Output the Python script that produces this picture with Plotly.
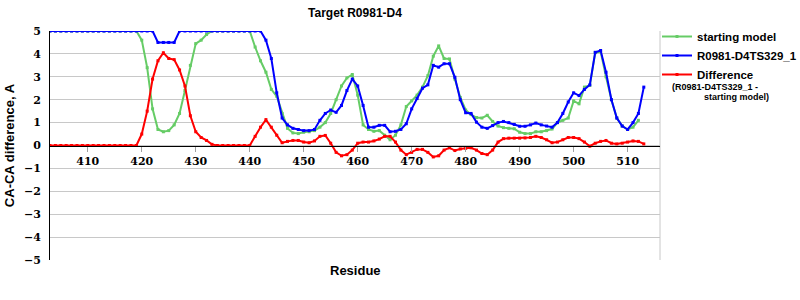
import plotly.graph_objects as go

residues = list(range(403, 514))

starting_model = (
    [5.0] * 17
    + [4.6, 3.4, 1.6, 0.7, 0.6, 0.65, 0.9, 1.4, 2.4, 3.5, 4.45, 4.6, 4.85]
    + [5.0] * 8
    + [4.3, 3.7, 3.2, 2.45, 2.15, 1.4, 0.75, 0.55, 0.52, 0.58, 0.6, 0.65, 0.8, 1.0,
       1.4, 2.0, 2.6, 2.95, 3.1, 2.2, 0.9, 0.7, 0.62, 0.65, 0.45, 0.25, 0.45, 0.9,
       1.7, 1.95, 2.2, 2.55, 3.05, 3.9, 4.35, 3.8, 3.78, 2.9, 2.1, 1.55, 1.35, 1.22,
       1.2, 1.32, 1.05, 0.85, 0.78, 0.75, 0.73, 0.58, 0.52, 0.52, 0.6, 0.6, 0.65,
       0.72, 1.0, 1.1, 1.2, 1.95, 1.82, 2.55, 2.62, 4.05, 4.1, 3.0, 2.0, 1.2, 0.85,
       0.7, 0.8, 1.1]
)

model_ts329 = (
    [5.0] * 20
    + [4.5, 4.5, 4.5, 4.5]
    + [5.0] * 16
    + [4.6, 3.8, 2.3, 1.2, 0.9, 0.75, 0.7, 0.65, 0.65, 0.7, 1.1, 1.4, 1.55, 1.45,
       1.75, 2.4, 2.9, 2.6, 1.75, 0.8, 0.8, 0.88, 0.88, 0.6, 0.62, 0.7, 0.95, 1.6,
       2.05, 2.5, 2.65, 3.5, 3.42, 3.57, 3.57, 2.98, 2.0, 1.43, 1.4, 1.02, 0.8, 0.75,
       0.87, 1.0, 1.05, 1.0, 0.92, 0.84, 0.84, 0.9, 0.98, 0.9, 0.85, 0.8, 1.0, 1.4,
       1.9, 2.3, 2.18, 2.45, 2.65, 4.07, 4.15, 3.2, 2.0, 1.2, 0.85, 0.7, 1.0, 1.4,
       2.55]
)

difference = (
    [0.0] * 17
    + [0.5, 1.5, 2.9, 3.7, 4.05, 3.8, 3.75, 3.3, 2.6, 1.3, 0.6, 0.35, 0.22, 0.05]
    + [0.0] * 7
    + [0.4, 0.8, 1.13, 0.8, 0.45, 0.12, 0.18, 0.22, 0.22, 0.15, 0.12, 0.2, 0.4, 0.44,
       0.1, -0.3, -0.45, -0.4, -0.2, 0.1, 0.15, 0.15, 0.2, 0.28, 0.4, 0.4, 0.15, -0.2,
       -0.4, -0.3, -0.17, -0.17, -0.3, -0.5, -0.45, -0.2, -0.1, -0.22, -0.15, -0.12,
       -0.1, -0.2, -0.35, -0.4, -0.2, 0.15, 0.3, 0.32, 0.32, 0.32, 0.33, 0.35, 0.4,
       0.35, 0.25, 0.12, 0.15, 0.25, 0.35, 0.35, 0.3, 0.15, -0.03, 0.1, 0.18, 0.22,
       0.1, 0.07, 0.1, 0.15, 0.2, 0.18, 0.07]
)

x_ticks = list(range(410, 511, 10))
y_ticks = list(range(-5, 6))

GREEN = "#66CC66"
BLUE = "#0000FF"
RED = "#FF0000"

fig = go.Figure()
fig.add_trace(go.Scatter(
    x=residues[:len(starting_model)], y=starting_model, name="starting model",
    mode="lines+markers", line=dict(color=GREEN, width=2),
    marker=dict(symbol="square", size=3, color=GREEN)))
fig.add_trace(go.Scatter(
    x=residues[:len(model_ts329)], y=model_ts329, name="R0981-D4TS329_1",
    mode="lines+markers", line=dict(color=BLUE, width=2),
    marker=dict(symbol="square", size=3, color=BLUE)))
fig.add_trace(go.Scatter(
    x=residues[:len(difference)], y=difference, name="Difference",
    mode="lines+markers", line=dict(color=RED, width=2),
    marker=dict(symbol="square", size=3, color=RED)))

SANS = "Liberation Sans, Arial, sans-serif"
SERIF = "DejaVu Serif, serif"

fig.update_layout(
    width=800, height=300,
    margin=dict(l=50, r=140, t=31, b=40, autoexpand=False),
    paper_bgcolor="white", plot_bgcolor="white",
    title=dict(text="Target R0981-D4", x=0.5, xref="paper", xanchor="center",
               y=1 - 13 / 300, yref="container", yanchor="middle",
               font=dict(family=SANS, size=12, color="black", weight="bold")),
    xaxis=dict(range=[403, 516], tickvals=x_ticks, showgrid=False, automargin=False,
               anchor="free", position=0.5, showline=True, linecolor="black",
               linewidth=1, ticks="outside", ticklen=5, tickcolor="#A0A0A0",
               tickfont=dict(family=SERIF, size=11, color="black", weight="bold"),
               zeroline=False),
    yaxis=dict(range=[-5, 5], tickvals=y_ticks, showgrid=True, gridcolor="#C8C8C8",
               gridwidth=1, showline=True, linecolor="black", linewidth=1,
               zeroline=False, ticks="", ticklabelstandoff=6, automargin=False,
               tickfont=dict(family=SERIF, size=11, color="black", weight="bold"),
               title=dict(text="CA-CA difference, A", standoff=6,
                          font=dict(family=SANS, size=13, color="black", weight="bold"))),
    legend=dict(xref="container", yref="container", x=657 / 800, xanchor="left",
                y=1 - 22 / 300, yanchor="top",
                font=dict(family=SANS, size=11.5, color="black", weight="bold"),
                itemwidth=30, bgcolor="rgba(0,0,0,0)", tracegroupgap=0),
    showlegend=True,
)

fig.add_shape(type="line", xref="paper", yref="paper", x0=1, x1=1, y0=0, y1=1,
              line=dict(color="#C8C8C8", width=1), layer="below")

fig.add_annotation(text="Residue", xref="paper", yref="paper", x=0.5, y=-10 / 229,
                   showarrow=False, xanchor="center", yanchor="middle",
                   font=dict(family=SANS, size=13, color="black", weight="bold"))
fig.add_annotation(text="(R0981-D4TS329_1 -", xref="paper", yref="paper",
                   x=(670 - 50) / 610, y=(260 - 87) / 229, showarrow=False,
                   xanchor="left", yanchor="middle",
                   font=dict(family=SANS, size=9, color="black", weight="bold"))
fig.add_annotation(text="starting model)", xref="paper", yref="paper",
                   x=(702 - 50) / 610, y=(260 - 97.5) / 229, showarrow=False,
                   xanchor="left", yanchor="middle",
                   font=dict(family=SANS, size=9, color="black", weight="bold"))

fig.write_html("out.html")
